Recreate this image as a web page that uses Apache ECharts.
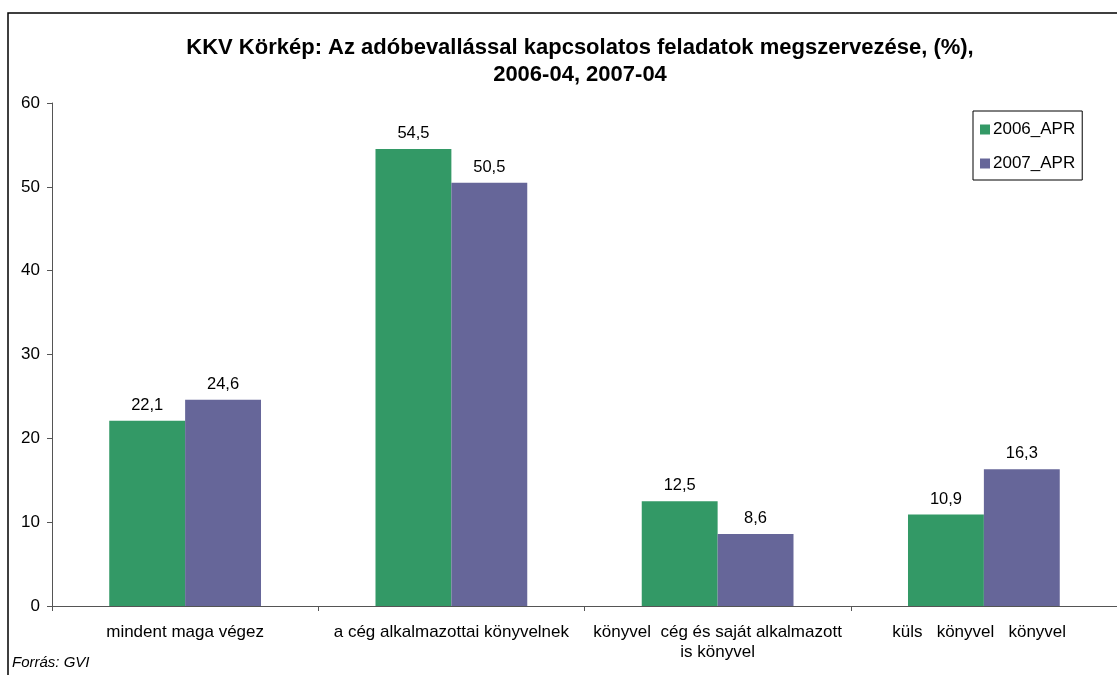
<!DOCTYPE html>
<html>
<head>
<meta charset="utf-8">
<script src="https://cdn.jsdelivr.net/npm/echarts@6/dist/echarts.min.js"></script>
<style>
  html, body { margin: 0; padding: 0; background: #fff; }
  #chart { width: 1117px; height: 675px; }
</style>
</head>
<body>
<div id="chart"></div>
<script>
const categories = [
  "mindent maga végez",
  "a cég alkalmazottai könyvelnek",
  "könyvel  cég és saját alkalmazott\nis könyvel",
  "küls   könyvel   könyvel  "
];
const seriesNames = ["2006_APR", "2007_APR"];
const values2006 = [22.1, 54.5, 12.5, 10.9];
const values2007 = [24.6, 50.5, 8.6, 16.3];
const yTicks = { min: 0, max: 60, interval: 10 };

const chart = echarts.init(document.getElementById("chart"));
const font = "Liberation Sans, Arial, sans-serif";
const barLabel = {
  show: true,
  position: "top",
  distance: 7,
  color: "#000",
  fontSize: 16.5,
  fontFamily: font,
  formatter: (p) => p.value.toFixed(1).replace(".", ",")
};

chart.setOption({
  color: ["#339966", "#666699"],
  animation: false,
  textStyle: { fontFamily: font },
  title: {
    text: "KKV Körkép: Az adóbevallással kapcsolatos feladatok megszervezése, (%),\n2006-04, 2007-04",
    left: 575,
    textAlign: "center",
    top: 29,
    textStyle: { fontSize: 22, fontWeight: "bold", color: "#000", lineHeight: 27, fontFamily: font }
  },
  legend: {
    orient: "vertical",
    left: 973,
    top: 111,
    padding: [10, 7, 8, 7],
    itemGap: 17,
    itemWidth: 10,
    itemHeight: 10,
    icon: "rect",
    borderColor: "#000",
    borderWidth: 1,
    textStyle: { fontSize: 17, color: "#000", padding: [0, 0, 0, -2] },
    data: seriesNames
  },
  grid: { left: 52, top: 103, bottom: 69, right: -5, containLabel: false },
  xAxis: {
    type: "category",
    data: categories,
    axisLine: { lineStyle: { color: "#555", width: 1 } },
    axisTick: { show: true, length: 5, lineStyle: { color: "#555" } },
    axisLabel: { interval: 0, margin: 16, fontSize: 17, color: "#000", lineHeight: 20 }
  },
  yAxis: {
    type: "value",
    min: yTicks.min,
    max: yTicks.max,
    interval: yTicks.interval,
    splitLine: { show: false },
    axisLine: { show: true, lineStyle: { color: "#555", width: 1 } },
    axisTick: { show: true, length: 5, lineStyle: { color: "#555" } },
    axisLabel: { margin: 12, fontSize: 17, color: "#000" }
  },
  series: [
    { name: seriesNames[0], type: "bar", data: values2006, barGap: "0%", barCategoryGap: "43%", label: barLabel },
    { name: seriesNames[1], type: "bar", data: values2007, label: barLabel }
  ],
  graphic: [
    {
      type: "rect",
      shape: { x: 8, y: 13, width: 1200, height: 700 },
      style: { fill: "none", stroke: "#000", lineWidth: 1.5 },
      silent: true,
      z: -1
    },
    {
      type: "text",
      left: 12,
      top: 655,
      style: { text: "Forrás: GVI", font: "italic 15px " + font, fill: "#000" }
    }
  ]
});
</script>
</body>
</html>
